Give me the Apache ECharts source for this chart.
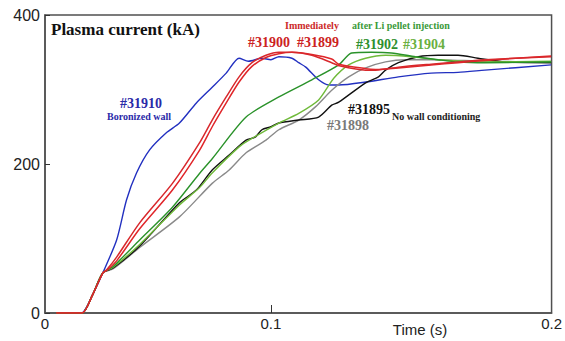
<!DOCTYPE html>
<html><head><meta charset="utf-8">
<script src="https://cdn.jsdelivr.net/npm/echarts@6/dist/echarts.min.js"></script>
<style>html,body{margin:0;padding:0;background:#fff}#c{width:565px;height:341px}</style>
</head><body><div id="c"></div>
<script>
// Time (s) and plasma current (kA) for each shot
const t31910 = [0.005,0.010,0.0165,0.021,0.0256,0.0317,0.0361,0.0405,0.0463,0.0537,0.0595,0.0670,0.0740,0.0802,0.0859,0.0900,0.0960,0.1000,0.1035,0.1093,0.1123,0.1154,0.1211,0.1256,0.1300,0.1419,0.1564,0.1709,0.1828,0.1947,0.2240];
const i31910 = [0,-2,0,24,54,98,152,188,219,242,255,282,303,322,342,338,342,340,344,342,336,330,313,306,306,310,317,322,323,326,333];

const t31900 = [0.005,0.012,0.0165,0.021,0.0256,0.0273,0.0317,0.0419,0.0564,0.0683,0.0740,0.0802,0.0859,0.0916,0.0978,0.1035,0.1093,0.1181,0.1269,0.1300,0.1419,0.1463,0.1564,0.1709,0.1828,0.1947,0.2240];
const i31900 = [0,0,0,24,54,58,75,121,174,228,259,290,317,336,346,350,350,346,336,332,326,326,330,334,337,340,344];
const t31899 = t31900;
const i31899 = [0,0,0,24,54,57,70,113,165,218,250,282,310,331,343,348,350,347,341,334,328,327,329,333,336,339,345];

const t31902 = [0.005,0.012,0.0165,0.021,0.0256,0.0300,0.0419,0.0564,0.0683,0.0740,0.0890,0.1035,0.1181,0.1300,0.1357,0.1445,0.1533,0.1639,0.1740,0.1828,0.1947,0.2240];
const i31902 = [0,0,0,24,54,62,98,142,187,207,263,290,313,333,349,350,349,344,340,337,336,337];

const t31904 = [0.005,0.012,0.0165,0.021,0.0256,0.0300,0.0419,0.0595,0.0683,0.0740,0.0859,0.0903,0.1035,0.1123,0.1211,0.1278,0.1344,0.1419,0.1507,0.1621,0.1740,0.1947,0.2240];
const i31904 = [0,0,0,24,54,61,92,145,168,188,223,232,255,268,286,315,333,342,346,344,340,337,338];

const t31895 = [0.005,0.012,0.0165,0.021,0.0256,0.0300,0.0419,0.0595,0.0670,0.0740,0.0815,0.0890,0.0930,0.0960,0.1000,0.1035,0.1123,0.1211,0.1269,0.1300,0.1419,0.1476,0.1507,0.1564,0.1652,0.1740,0.1828,0.1916,0.2035,0.2240];
const i31895 = [0,0,0,24,54,60,90,148,165,192,212,232,236,246,250,255,259,263,279,283,309,317,326,336,344,346,346,342,337,336];

const t31898 = [0.005,0.012,0.0165,0.021,0.0256,0.0300,0.0419,0.0595,0.0740,0.0815,0.0890,0.0978,0.1035,0.1123,0.1198,0.1269,0.1344,0.1419,0.1507,0.1595,0.1709,0.1947,0.2240];
const i31898 = [0,0,0,24,54,59,88,129,174,192,215,232,246,259,277,299,317,329,337,340,340,338,337];

const xMax = 0.2242;
const xLabelValues = [0, 0.1, xMax];
const xLabelText = ['0', '0.1', '0.2'];
const yTicks = [0, 200, 400];

const pairs = (t, v) => t.map((x, k) => [x, v[k]]);
const line = (name, t, v, color, w) => ({
  name, type: 'line', data: pairs(t, v), showSymbol: false, symbol: 'none',
  smooth: 0.25,
  lineStyle: { color, width: w }, silent: true, animation: false
});

const chart = echarts.init(document.getElementById('c'), null, { renderer: 'svg' });
const serif = '"Liberation Serif", "Times New Roman", serif';
const sans = '"Liberation Sans", Arial, sans-serif';
const txt = (x, y, text, size, color, align, weight) => ({
  type: 'text', x, y, silent: true,
  style: { text, x: 0, y: 0, fill: color, font: `${weight || 'bold'} ${size}px ${serif}`, textAlign: align || 'left', textVerticalAlign: 'middle' }
});
chart.setOption({
  animation: false,
  grid: { left: 45, right: 11, top: 15, bottom: 28, show: true, borderColor: '#505050', borderWidth: 1.5 },
  xAxis: {
    type: 'value', min: 0, max: xMax,
    axisLine: { show: true, lineStyle: { color: '#505050', width: 1.5 } },
    axisTick: { show: true, inside: true, length: 8, customValues: [0.1], lineStyle: { color: '#333' } },
    axisLabel: { customValues: xLabelValues, formatter: v => xLabelText[xLabelValues.indexOf(v)] ?? '', color: '#222', fontSize: 15, fontFamily: sans, margin: 3 },
    splitLine: { show: false }
  },
  yAxis: {
    type: 'value', min: 0, max: 400, interval: 200,
    axisLine: { show: true, lineStyle: { color: '#505050', width: 1.5 } },
    axisTick: { show: true, inside: true, length: 5, lineStyle: { color: '#333' } },
    axisLabel: { color: '#222', fontSize: 16, fontFamily: sans, margin: 5, formatter: v => yTicks.includes(v) ? String(v) : '' },
    splitLine: { show: false }
  },
  series: [
    line('#31910', t31910, i31910, '#2230c0', 1.4),
    line('#31898', t31898, i31898, '#8a8a8a', 1.4),
    line('#31895', t31895, i31895, '#111111', 1.4),
    line('#31904', t31904, i31904, '#6fba3a', 1.4),
    line('#31902', t31902, i31902, '#2a922a', 1.4),
    line('#31899', t31899, i31899, '#e0262a', 1.5),
    line('#31900', t31900, i31900, '#d8282c', 1.5)
  ],
  graphic: [
    txt(51, 29, 'Plasma current (kA)', 17, '#111'),
    txt(141, 103, '#31910', 14, '#2a2aa8', 'center'),
    txt(139, 116, 'Boronized wall', 10, '#2a2aa8', 'center'),
    txt(285, 25, 'Immediately', 10, '#cc2a2a'),
    txt(352, 25, 'after Li pellet injection', 10, '#3a9a3a'),
    txt(248, 42, '#31900', 14, '#cc2222'),
    txt(297, 42, '#31899', 14, '#cc2222'),
    txt(356, 44, '#31902', 14, '#2e902e'),
    txt(403, 44, '#31904', 14, '#6ab040'),
    txt(348, 109, '#31895', 14, '#111'),
    txt(392, 116, 'No wall conditioning', 10, '#222'),
    txt(327, 125, '#31898', 14, '#7a7a7a'),
    { type: 'text', x: 420, y: 329, silent: true, style: { text: 'Time (s)', x: 0, y: 0, fill: '#222', font: `15px ${sans}`, textAlign: 'center', textVerticalAlign: 'middle' } }
  ]
});
</script></body></html>
